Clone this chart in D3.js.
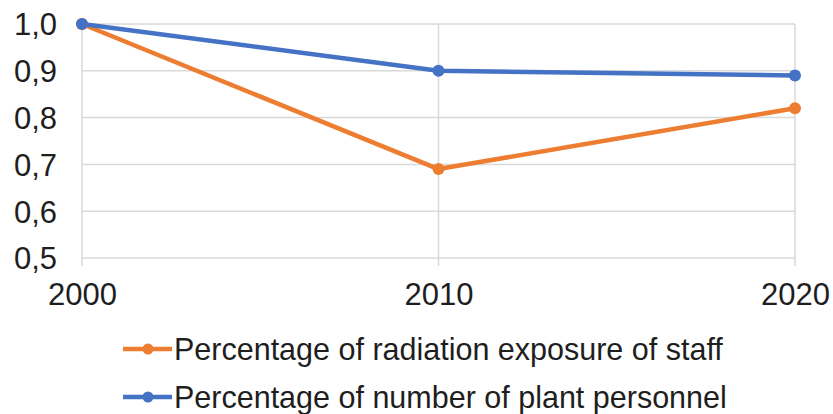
<!DOCTYPE html>
<html><head><meta charset="utf-8">
<script src="https://cdn.jsdelivr.net/npm/d3@7"></script>
<style>body{margin:0;background:#fff}svg{display:block}text{font-family:"Liberation Sans",Arial,sans-serif;fill:#1e1e1e}</style>
</head><body><svg id="c" width="833" height="414"></svg>
<script>
const years = [2000, 2010, 2020];
const radiationExposure = [1.0, 0.69, 0.82];
const plantPersonnel = [1.0, 0.90, 0.89];
const yTicks = [0.5, 0.6, 0.7, 0.8, 0.9, 1.0];
const seriesNames = ["Percentage of radiation exposure of staff", "Percentage of number of plant personnel"];
const colors = ["#ED7D31", "#4472C4"];

const svg = d3.select("#c");
const x = d3.scaleLinear().domain([2000, 2020]).range([82, 795]);
const y = d3.scaleLinear().domain([0.5, 1.0]).range([258, 24]);
const fmt = d => d3.format(".1f")(d).replace(".", ",");

// horizontal gridlines
svg.append("g").selectAll("line").data(yTicks).join("line")
  .attr("x1", x(2000)).attr("x2", x(2020))
  .attr("y1", d => y(d)).attr("y2", d => y(d))
  .attr("stroke", "#d9d9d9").attr("stroke-width", 1.5);
// vertical gridlines
svg.append("g").selectAll("line").data(years).join("line")
  .attr("x1", d => x(d)).attr("x2", d => x(d))
  .attr("y1", y(1.0)).attr("y2", y(0.5) + 8)
  .attr("stroke", "#d9d9d9").attr("stroke-width", 1.5);

// y axis labels
const yAxis = d3.axisLeft(y).tickValues(yTicks).tickFormat(fmt).tickSize(0).tickPadding(25);
const gy = svg.append("g").attr("transform", `translate(${x(2000)},0)`).call(yAxis);
gy.select(".domain").remove();
gy.selectAll("text").style("font-size", "31px").attr("dy", "0.35em");

// x axis labels
const xAxis = d3.axisBottom(x).tickValues(years).tickFormat(d3.format("d")).tickSize(0).tickPadding(47);
const gx = svg.append("g").attr("transform", `translate(0,${y(0.5)})`).call(xAxis);
gx.select(".domain").remove();
gx.selectAll("text").style("font-size", "31px").attr("dy", "0");

const series = [radiationExposure, plantPersonnel];
const line = d3.line().x((d, i) => x(years[i])).y(d => y(d));
series.forEach((s, k) => {
  svg.append("path").datum(s).attr("d", line).attr("fill", "none")
    .attr("stroke", colors[k]).attr("stroke-width", 4.5).attr("stroke-linejoin", "round");
});
series.forEach((s, k) => {
  svg.append("g").selectAll("circle").data(s).join("circle")
    .attr("cx", (d, i) => x(years[i])).attr("cy", d => y(d)).attr("r", 6)
    .attr("fill", colors[k]);
});

// legend
const legY = [349, 397];
seriesNames.forEach((n, k) => {
  const g = svg.append("g").attr("transform", `translate(0,${legY[k]})`);
  g.append("line").attr("x1", 123).attr("x2", 172).attr("stroke", colors[k]).attr("stroke-width", 4.5);
  g.append("circle").attr("cx", 148).attr("r", 5.5).attr("fill", colors[k]);
  g.append("text").attr("x", 174).attr("dy", "0.35em").style("font-size", "30.5px").text(n);
});
</script></body></html>
